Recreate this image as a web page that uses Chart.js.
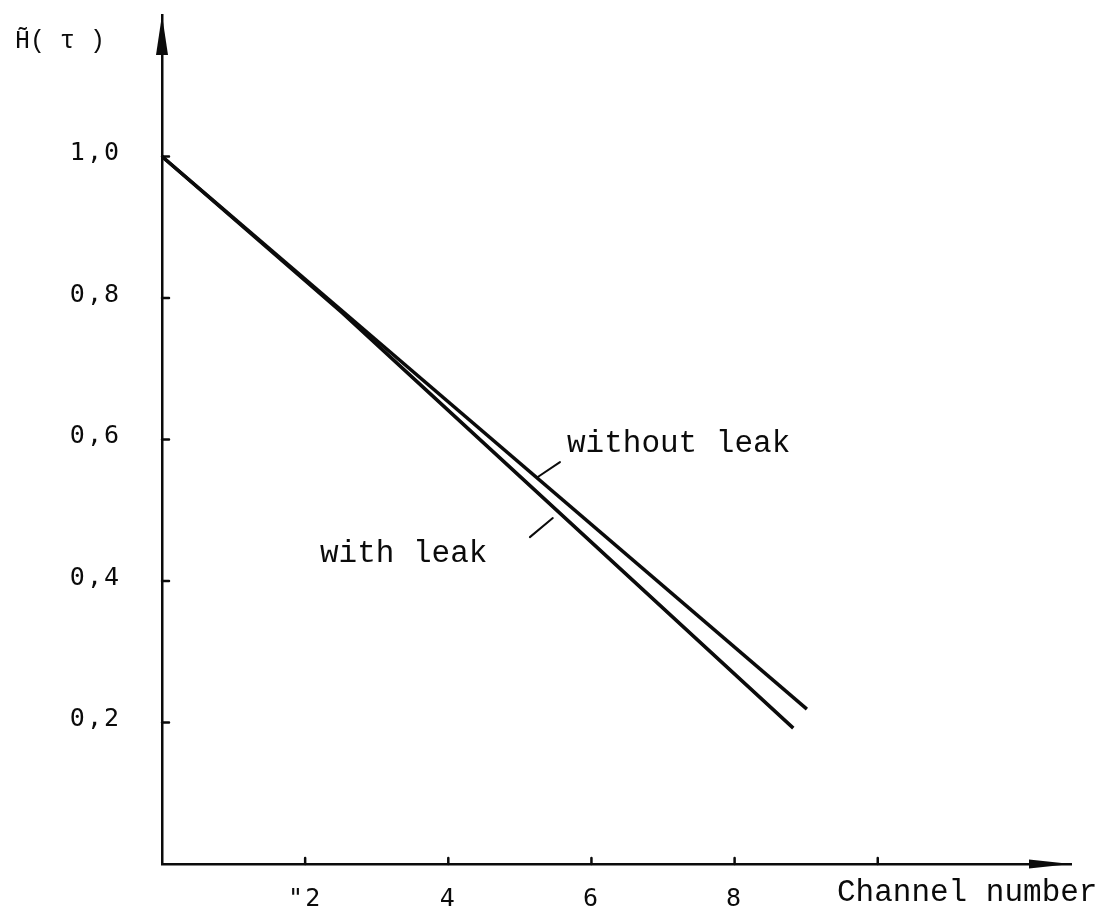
<!DOCTYPE html>
<html><head><meta charset="utf-8">
<script src="https://cdn.jsdelivr.net/npm/chart.js@4.4.1/dist/chart.umd.min.js"></script>
<style>html,body{margin:0;padding:0;background:#fff;} canvas{display:block;}</style>
</head><body>
<canvas id="c" width="1120" height="912"></canvas>
<script>
// ---- data ----
const channelWithoutLeak = [0, 9.01];
const hWithoutLeak       = [1.0, 0.219];
const channelWithLeak    = [0, 2.52, 8.82];
const hWithLeak          = [1.0, 0.779, 0.192];
const xTickValues = [2, 4, 6, 8, 10];
const xTickLabels = ['"2', '4', '6', '8', ''];
const yTickValues = [0.2, 0.4, 0.6, 0.8, 1.0];
const yTickLabels = ['0,2', '0,4', '0,6', '0,8', '1,0'];
const seriesNames = ['without leak', 'with leak'];
const xAxisTitle = 'Channel number';
const yAxisTitle = 'H\u0303( \u03C4 )';

const INK = '#0b0b0b';
const toPts = (xs, ys) => xs.map((v, i) => ({x: v, y: ys[i]}));

const decor = {
  id: 'decor',
  beforeDraw(chart) { chart.ctx.letterSpacing = '2px'; },
  beforeDatasetsDraw(chart) { chart.ctx.letterSpacing = '0px'; },
  afterDraw(chart) {
    const {ctx, chartArea: a, scales: {x, y}} = chart;
    ctx.save();
    ctx.letterSpacing = '0px';
    ctx.strokeStyle = INK; ctx.fillStyle = INK;
    ctx.lineWidth = 2.5; ctx.lineCap = 'round';
    // inward tick marks
    ctx.beginPath();
    xTickValues.forEach(v => { const p = x.getPixelForValue(v); ctx.moveTo(p, a.bottom); ctx.lineTo(p, a.bottom - 6); });
    yTickValues.forEach(v => { const p = y.getPixelForValue(v); ctx.moveTo(a.left, p); ctx.lineTo(a.left + 7, p); });
    ctx.stroke();
    // arrowheads
    ctx.beginPath();
    ctx.moveTo(a.left, a.top); ctx.lineTo(a.left + 6, a.top + 40); ctx.lineTo(a.left - 6, a.top + 40); ctx.closePath(); ctx.fill();
    ctx.beginPath();
    ctx.moveTo(a.right, a.bottom); ctx.lineTo(a.right - 42, a.bottom - 4.5); ctx.lineTo(a.right - 42, a.bottom + 4.5); ctx.closePath(); ctx.fill();
    // leader lines (anchored in data coordinates)
    ctx.lineWidth = 2;
    ctx.beginPath();
    ctx.moveTo(x.getPixelForValue(5.25), y.getPixelForValue(0.547));
    ctx.lineTo(x.getPixelForValue(5.56), y.getPixelForValue(0.568));
    ctx.moveTo(x.getPixelForValue(5.14), y.getPixelForValue(0.462));
    ctx.lineTo(x.getPixelForValue(5.46), y.getPixelForValue(0.489));
    ctx.stroke();
    // texts
    ctx.font = '31px "Liberation Mono"';
    ctx.textAlign = 'left'; ctx.textBaseline = 'alphabetic';
    ctx.fillText(seriesNames[0], 567, 452);
    ctx.fillText(seriesNames[1], 320, 562);
    ctx.fillText(xAxisTitle, 837, 901);
    ctx.font = '25px "Liberation Mono"';
    ctx.fillText(yAxisTitle, 15, 48);
    ctx.restore();
  }
};

new Chart(document.getElementById('c'), {
  type: 'line',
  data: {
    datasets: [
      { label: seriesNames[0], data: toPts(channelWithoutLeak, hWithoutLeak),
        borderColor: INK, borderWidth: 3.5, pointRadius: 0, tension: 0, fill: false, clip: false },
      { label: seriesNames[1], data: toPts(channelWithLeak, hWithLeak),
        borderColor: INK, borderWidth: 3.5, pointRadius: 0, tension: 0, fill: false, clip: false }
    ]
  },
  options: {
    responsive: false,
    animation: false,
    events: [],
    layout: { padding: { top: 15, right: 49, bottom: 0, left: 0 } },
    plugins: { legend: { display: false }, tooltip: { enabled: false }, title: { display: false } },
    scales: {
      x: {
        type: 'linear', min: 0, max: 12.7,
        afterBuildTicks(s) { s.ticks = xTickValues.map(v => ({value: v})); },
        afterFit(s) { s.height = 48; s.paddingLeft = 0; s.paddingRight = 0; },
        grid: { display: false },
        border: { display: true, color: INK, width: 2.5 },
        ticks: {
          color: INK, padding: 12, maxRotation: 0, autoSkip: false,
          font: { family: '"DejaVu Sans Mono"', size: 25 },
          callback: (v) => { const i = xTickValues.indexOf(v); return i >= 0 ? xTickLabels[i] : ''; }
        }
      },
      y: {
        type: 'linear', min: 0, max: 1.2,
        afterBuildTicks(s) { s.ticks = yTickValues.map(v => ({value: v})); },
        afterFit(s) { s.width = 162; s.paddingTop = 0; s.paddingBottom = 0; },
        grid: { display: false },
        border: { display: true, color: INK, width: 2.5 },
        ticks: {
          color: INK, padding: 33, labelOffset: -3, autoSkip: false,
          font: { family: '"DejaVu Sans Mono"', size: 25 },
          callback: (v) => { const i = yTickValues.findIndex(t => Math.abs(t - v) < 1e-9); return i >= 0 ? yTickLabels[i] : ''; }
        }
      }
    }
  },
  plugins: [decor]
});
</script>
</body></html>
